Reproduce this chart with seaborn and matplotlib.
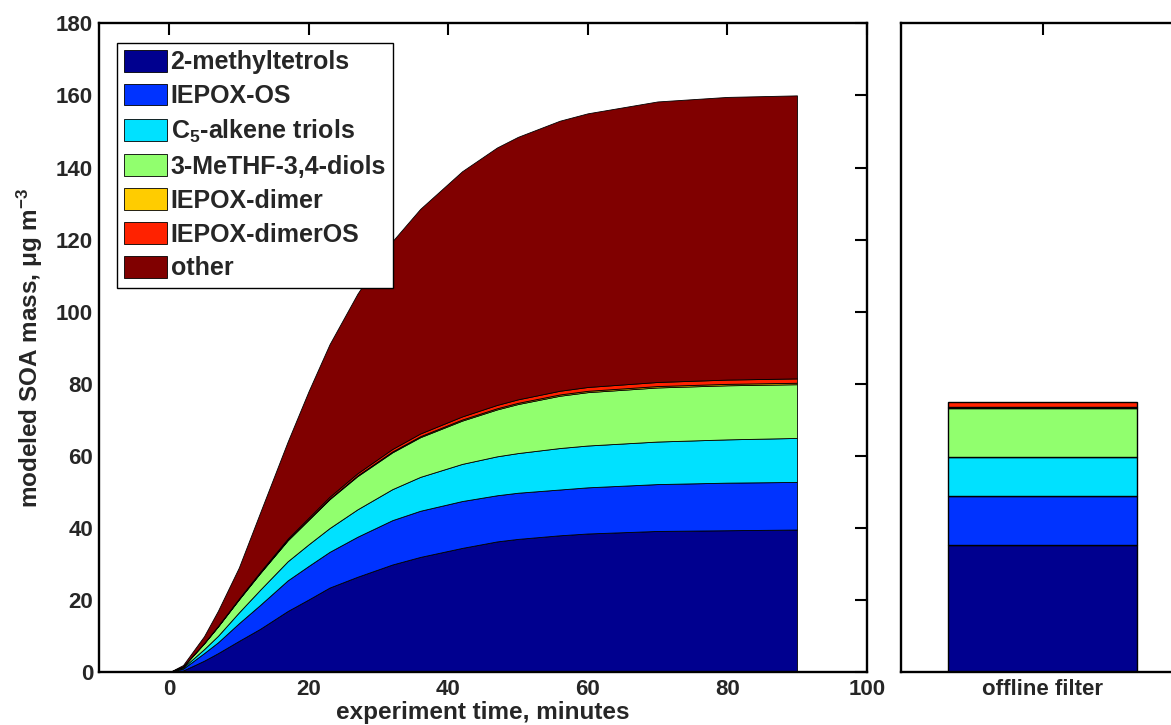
import numpy as np
import pandas as pd
import matplotlib
matplotlib.use("Agg")
import matplotlib.pyplot as plt
import seaborn as sns

# modeled SOA mass (ug m-3) per species vs experiment time (min)
time = [0, 2, 5, 7, 10, 13, 17, 20, 23, 27, 32, 36, 42, 47, 50, 56, 60, 70, 80, 90]
methyltetrols = [0, 0.5, 3.2, 5.3, 8.7, 12.0, 17.0, 20.2, 23.5, 26.5, 29.9, 32.0, 34.5, 36.3, 37.0, 38.0, 38.5, 39.2, 39.4, 39.6]
iepox_os = [0, 0.5, 2.1, 3.0, 4.9, 6.6, 8.5, 9.3, 9.9, 11.1, 12.3, 12.8, 13.0, 12.8, 12.8, 12.7, 12.8, 13.0, 13.2, 13.2]
alkene_triols = [0, 0.3, 1.1, 1.8, 3.0, 4.2, 5.3, 6.0, 6.6, 7.6, 8.6, 9.4, 10.3, 10.8, 11.0, 11.5, 11.6, 11.8, 12.0, 12.2]
methf_diols = [0, 0.3, 1.6, 2.6, 3.6, 4.6, 5.8, 6.8, 8.0, 9.2, 10.2, 11.0, 12.0, 13.0, 13.6, 14.5, 14.8, 15.0, 15.0, 14.9]
iepox_dimer = [0, 0, 0.02, 0.04, 0.07, 0.1, 0.13, 0.16, 0.19, 0.22, 0.26, 0.28, 0.31, 0.33, 0.34, 0.36, 0.37, 0.39, 0.4, 0.41]
iepox_dimer_os = [0, 0.01, 0.06, 0.1, 0.17, 0.25, 0.35, 0.42, 0.5, 0.58, 0.68, 0.75, 0.85, 0.92, 0.96, 1.02, 1.06, 1.13, 1.18, 1.2]
other = [0, 0.4, 1.9, 4.2, 8.6, 16.3, 26.9, 35.1, 42.3, 49.8, 57.6, 62.3, 68.0, 71.4, 72.8, 74.9, 75.9, 77.8, 78.4, 78.5]

species = ["2-methyltetrols", "IEPOX-OS", "C$_5$-alkene triols", "3-MeTHF-3,4-diols",
           "IEPOX-dimer", "IEPOX-dimerOS", "other"]
colors = ["#00008F", "#0033FF", "#00E1FF", "#91FF6E", "#FFCC00", "#FF2200", "#800000"]

# offline filter measurement (no "other")
filter_vals = [35.2, 13.7, 10.8, 13.6, 0.3, 1.3]

sns.set_style("white")
plt.rcParams["font.family"] = ["Liberation Sans", "DejaVu Sans"]
plt.rcParams["font.weight"] = "bold"
plt.rcParams["axes.labelweight"] = "bold"
plt.rcParams["mathtext.fontset"] = "custom"
plt.rcParams["mathtext.rm"] = "Liberation Sans:bold"
plt.rcParams["mathtext.bf"] = "Liberation Sans:bold"
plt.rcParams["mathtext.it"] = "Liberation Sans:bold"
plt.rcParams["mathtext.default"] = "rm"

W, H = 1171, 725
fig = plt.figure(figsize=(W / 100, H / 100), dpi=100)
bot = (H - 672.3) / H
hgt = (672.3 - 23.3) / H
ax = fig.add_axes([99.3 / W, bot, 767.4 / W, hgt])
ax2 = fig.add_axes([900.7 / W, bot, 284 / W, hgt])

layers = [methyltetrols, iepox_os, alkene_triols, methf_diols, iepox_dimer, iepox_dimer_os, other]
ax.stackplot(time, *layers, colors=colors, labels=species, edgecolor="black", linewidth=0.6)

ax.set_xlim(-10, 100)
ax.set_ylim(0, 180)
ax.set_xticks([0, 20, 40, 60, 80, 100])
ax.set_yticks(np.arange(0, 181, 20))
ax.set_xlabel("experiment time, minutes", fontsize=17.5, labelpad=1)
ax.set_ylabel("modeled SOA mass, μg m$^{-3}$", fontsize=17.5, labelpad=8)

leg = ax.legend(loc="upper left", bbox_to_anchor=(17.5 / 767.4, (672.3 - 42.5) / 649), borderaxespad=0,
                fontsize=18, frameon=True, fancybox=False, framealpha=1, edgecolor="black",
                handlelength=1.7, handleheight=0.95, handletextpad=0.15, labelspacing=0.38,
                borderpad=0.3)
leg.get_frame().set_linewidth(1.0)

# offline filter stacked bar
bottom = 0
for v, c in zip(filter_vals, colors[:-1]):
    ax2.bar(1, v, width=0.8, bottom=bottom, color=c, edgecolor="black", linewidth=1.0)
    bottom += v
ax2.set_xlim(0.4, 1.6)
ax2.set_ylim(0, 180)
ax2.set_xticks([1])
ax2.set_xticklabels(["offline filter"])
ax2.set_yticks(np.linspace(0, 180, 11))
ax2.set_yticklabels([])

for a in (ax, ax2):
    a.tick_params(direction="in", top=True, right=True, length=8.6, width=1.5,
                  labelsize=16, pad=4.5, color="black")
    for s in a.spines.values():
        s.set_visible(True)
        s.set_color("black")
        s.set_linewidth(1.7)
    for lab in a.get_xticklabels() + a.get_yticklabels():
        lab.set_fontweight("bold")

fig.savefig("out.png", dpi=100)
